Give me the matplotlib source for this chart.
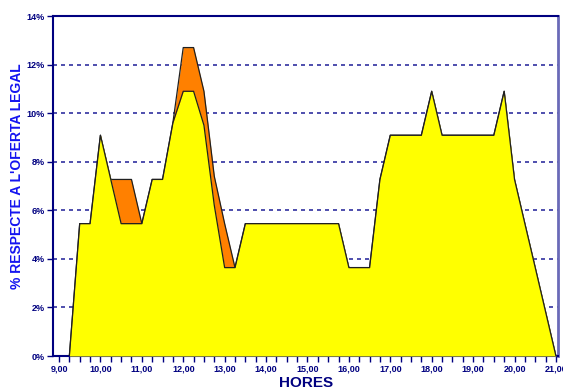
import numpy as np
import matplotlib
matplotlib.use("Agg")
import matplotlib.pyplot as plt

# Quarter-hour readings, 9:15 to 21:00 (percent of the legal offer)
base_pct = [
    0.00, 5.45, 5.45, 9.09, 7.27, 5.45, 5.45, 5.45, 7.27, 7.27,
    9.60, 10.90, 10.90, 9.50, 6.20, 3.64, 3.64, 5.45,
    5.45, 5.45, 5.45, 5.45, 5.45, 5.45, 5.45, 5.45, 5.45,
    3.64, 3.64, 3.64, 7.27, 9.09, 9.09, 9.09, 9.09, 10.90,
    9.09, 9.09, 9.09, 9.09, 9.09, 9.09, 10.90, 7.27, 5.45,
    3.64, 1.82, 0.00,
]
total_pct = [
    0.00, 5.45, 5.45, 9.09, 7.27, 7.27, 7.27, 5.45, 7.27, 7.27,
    9.60, 12.70, 12.70, 10.90, 7.40, 5.45, 3.64, 5.45,
    5.45, 5.45, 5.45, 5.45, 5.45, 5.45, 5.45, 5.45, 5.45,
    3.64, 3.64, 3.64, 7.27, 9.09, 9.09, 9.09, 9.09, 10.90,
    9.09, 9.09, 9.09, 9.09, 9.09, 9.09, 10.90, 7.27, 5.45,
    3.64, 1.82, 0.00,
]
hour_labels = ["9,00", "10,00", "11,00", "12,00", "13,00", "14,00", "15,00",
               "16,00", "17,00", "18,00", "19,00", "20,00", "21,00"]
y_levels = [0, 2, 4, 6, 8, 10, 12, 14]
y_labels = ["0%", "2%", "4%", "6%", "8%", "10%", "12%", "14%"]

times = 9.25 + 0.25 * np.arange(len(base_pct))
hours = np.arange(9, 9 + len(hour_labels))

NAVY = "#000080"
plt.rcParams["font.family"] = ["Liberation Sans", "DejaVu Sans"]

fig = plt.figure(figsize=(5.63, 3.92), dpi=100)
ax = fig.add_axes([53 / 563, 36 / 392, 505 / 563, 340 / 392])

# dashed reference lines behind the areas
for lv in y_levels[1:-1]:
    ax.axhline(lv, color="#3030a0", lw=1.2, ls=(0, (2.4, 2.4)), zorder=1)

ax.fill_between(times, total_pct, 0, color="#FF8000", zorder=2, lw=0)
ax.plot(times, total_pct, color="#202020", lw=0.9, zorder=3)
ax.fill_between(times, base_pct, 0, color="#FFFF00", zorder=4, lw=0)
ax.plot(times, base_pct, color="#202020", lw=0.9, zorder=5)

ax.set_xlim(8.855, 21.05)
ax.set_ylim(0, 14)

ax.set_xticks(hours)
ax.set_xticklabels(hour_labels)
ax.set_xticks(np.arange(9, 21.01, 0.25), minor=True)
ax.set_yticks(y_levels)
ax.set_yticklabels(y_labels)

ax.tick_params(axis="both", which="both", direction="out", colors=NAVY,
               labelsize=6.5, width=1, length=4, pad=2)
for lab in ax.get_xticklabels() + ax.get_yticklabels():
    lab.set_fontweight("bold")
    lab.set_color(NAVY)

for side in ("left", "bottom", "top"):
    ax.spines[side].set_color(NAVY)
    ax.spines[side].set_linewidth(1.5)
ax.spines["right"].set_color("#6a6ab8")
ax.spines["right"].set_linewidth(2)

fig.text(306 / 563, 1 - 383 / 392, "HORES", color=NAVY, fontsize=11,
         fontweight="bold", ha="center", va="center")
fig.text(17 / 563, 1 - 176 / 392, "% RESPECTE A L'OFERTA LEGAL", color="#1414f0",
         fontsize=10, fontweight="bold", rotation=90, ha="center", va="center")

fig.savefig("out.png", dpi=100)
